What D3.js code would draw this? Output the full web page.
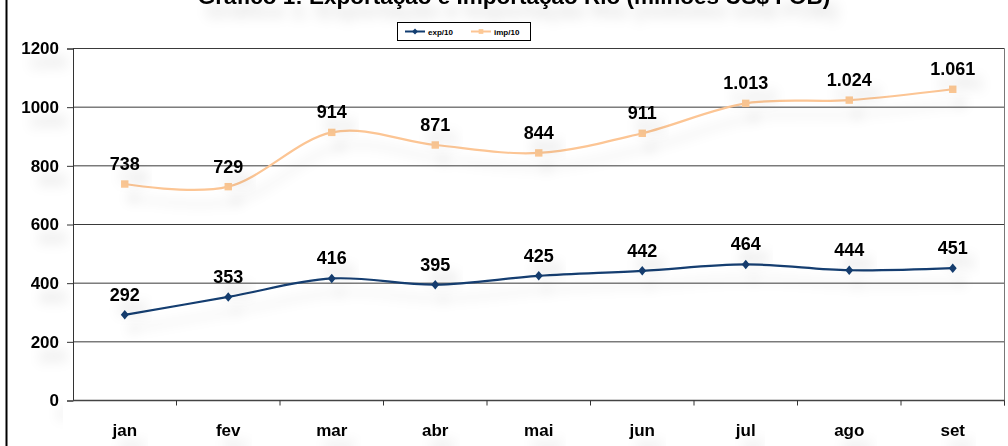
<!DOCTYPE html>
<html>
<head>
<meta charset="utf-8">
<script src="https://cdn.jsdelivr.net/npm/d3@7"></script>
<style>
  body { margin: 0; background: #fff; }
  svg { display: block; font-family: Arial, "Liberation Sans", sans-serif; }
</style>
</head>
<body>
<div id="chart"></div>
<script>
// data
let months = ["jan", "fev", "mar", "abr", "mai", "jun", "jul", "ago", "set"];
let exportacao = [292, 353, 416, 395, 425, 442, 464, 444, 451];
let importacao = [738, 729, 914, 871, 844, 911, 1013, 1024, 1061];
let yTicks = [0, 200, 400, 600, 800, 1000, 1200];
let seriesNames = ["exp/10", "imp/10"];
let titleText = "Gráfico 1: Exportação e Importação Rio (milhões US$ FOB)";

let width = 1008, height = 446;
let plot = {left: 73, right: 1004.5, top: 48.5, bottom: 400.5};

let ptBR = d3.formatLocale({decimal: ",", thousands: ".", grouping: [3], currency: ["R$", ""]});
let fmt = ptBR.format(",");

let svg = d3.select("#chart").append("svg")
	.attr("width", width)
	.attr("height", height);

// soft shadow like the excel one
let defs = svg.append("defs");
let shadow = defs.append("filter").attr("id", "shadow")
	.attr("x", "-20%").attr("y", "-50%").attr("width", "160%").attr("height", "300%");
shadow.append("feDropShadow")
	.attr("dx", 8).attr("dy", 14)
	.attr("stdDeviation", 6)
	.attr("flood-color", "#000")
	.attr("flood-opacity", 0.12);

let x = d3.scaleBand()
	.domain(months)
	.range([plot.left, plot.right]);

let y = d3.scaleLinear()
	.domain([0, 1200])
	.range([plot.bottom, plot.top]);

// frame line on the left
svg.append("line")
	.attr("x1", 6.5).attr("x2", 6.5)
	.attr("y1", 0).attr("y2", height)
	.attr("stroke", "#000")
	.attr("stroke-width", 2);

// title (top part is cut, like in the original)
svg.append("text")
	.attr("x", 514)
	.attr("y", 4)
	.attr("text-anchor", "middle")
	.attr("font-size", "22.5px")
	.attr("font-weight", "bold")
	.attr("filter", "url(#shadow)")
	.text(titleText);

// grid lines
svg.append("g")
	.selectAll("line")
	.data(yTicks.filter(d => d > 0))
	.enter()
	.append("line")
	.attr("x1", plot.left).attr("x2", plot.right)
	.attr("y1", d => y(d)).attr("y2", d => y(d))
	.attr("stroke", "#3a3a3a")
	.attr("stroke-width", 1);

// right border of plot area
svg.append("line")
	.attr("x1", plot.right).attr("x2", plot.right)
	.attr("y1", plot.top).attr("y2", plot.bottom + 5)
	.attr("stroke", "#777");

// y axis
let yaxis = d3.axisLeft(y)
	.tickValues(yTicks)
	.tickSize(6)
	.tickPadding(8)
	.tickFormat(d3.format("d"));

let gy = svg.append("g")
	.attr("transform", "translate(" + plot.left + ",0)")
	.call(yaxis);
gy.select(".domain").attr("stroke", "#333");
gy.selectAll(".tick line").attr("stroke", "#333");
gy.selectAll("text")
	.attr("font-size", "17px")
	.attr("font-weight", "bold")
	.attr("fill", "#000")
	.attr("filter", "url(#shadow)");

// x axis, ticks between categories
let gx = svg.append("g")
	.attr("transform", "translate(0," + plot.bottom + ")");
gx.append("line")
	.attr("x1", plot.left).attr("x2", plot.right)
	.attr("stroke", "#444")
	.attr("stroke-width", 1.5);
gx.selectAll(".sep")
	.data(months)
	.enter()
	.append("line")
	.attr("class", "sep")
	.attr("x1", d => x(d) + x.bandwidth()).attr("x2", d => x(d) + x.bandwidth())
	.attr("y1", 0).attr("y2", 5)
	.attr("stroke", "#333");
gx.selectAll(".lbl")
	.data(months)
	.enter()
	.append("text")
	.attr("class", "lbl")
	.attr("x", d => x(d) + x.bandwidth() / 2)
	.attr("y", 35)
	.attr("text-anchor", "middle")
	.attr("font-size", "17px")
	.attr("font-weight", "bold")
	.attr("filter", "url(#shadow)")
	.text(d => d);

let cx = (d, i) => x(months[i]) + x.bandwidth() / 2;

let line = d3.line()
	.x(cx)
	.y(d => y(d))
	.curve(d3.curveCardinal.tension(0));

let series = [
	{name: seriesNames[0], values: exportacao, color: "#123d70", marker: "diamond"},
	{name: seriesNames[1], values: importacao, color: "#fcc594", marker: "square"}
];

series.forEach(s => {
	let g = svg.append("g").attr("filter", "url(#shadow)");
	g.append("path")
		.datum(s.values)
		.attr("d", line)
		.attr("fill", "none")
		.attr("stroke", s.color)
		.attr("stroke-width", 2.2);

	let sym = d3.symbol()
		.type(s.marker == "diamond" ? d3.symbolDiamond2 : d3.symbolSquare)
		.size(s.marker == "diamond" ? 40 : 55);
	g.selectAll(".pt")
		.data(s.values)
		.enter()
		.append("path")
		.attr("class", "pt")
		.attr("transform", (d, i) => "translate(" + cx(d, i) + "," + y(d) + ")" + (s.marker == "diamond" ? " scale(1,1.2)" : ""))
		.attr("d", sym)
		.attr("fill", s.marker == "diamond" ? s.color : "#fdc894");

	svg.append("g")
		.selectAll("text")
		.data(s.values)
		.enter()
		.append("text")
		.attr("x", cx)
		.attr("y", d => y(d) - 14)
		.attr("text-anchor", "middle")
		.attr("font-size", "18px")
		.attr("font-weight", "bold")
		.attr("filter", "url(#shadow)")
		.text(d => fmt(d));
});

// legend
let legend = svg.append("g").attr("transform", "translate(397,22)");
legend.append("rect")
	.attr("x", 0.5).attr("y", 0.5)
	.attr("width", 133).attr("height", 18)
	.attr("fill", "#fff")
	.attr("stroke", "#000");
let lx = [8, 74];
series.forEach((s, i) => {
	legend.append("line")
		.attr("x1", lx[i]).attr("x2", lx[i] + 20)
		.attr("y1", 9.5).attr("y2", 9.5)
		.attr("stroke", s.color)
		.attr("stroke-width", 2);
	legend.append("path")
		.attr("transform", "translate(" + (lx[i] + 10) + ",9.5)")
		.attr("d", d3.symbol().type(s.marker == "diamond" ? d3.symbolDiamond2 : d3.symbolSquare).size(22))
		.attr("fill", s.marker == "diamond" ? s.color : "#fdc894");
	legend.append("text")
		.attr("x", lx[i] + 23)
		.attr("y", 12.5)
		.attr("font-size", "8px")
		.attr("font-weight", "bold")
		.text(s.name);
});
</script>
</body>
</html>
